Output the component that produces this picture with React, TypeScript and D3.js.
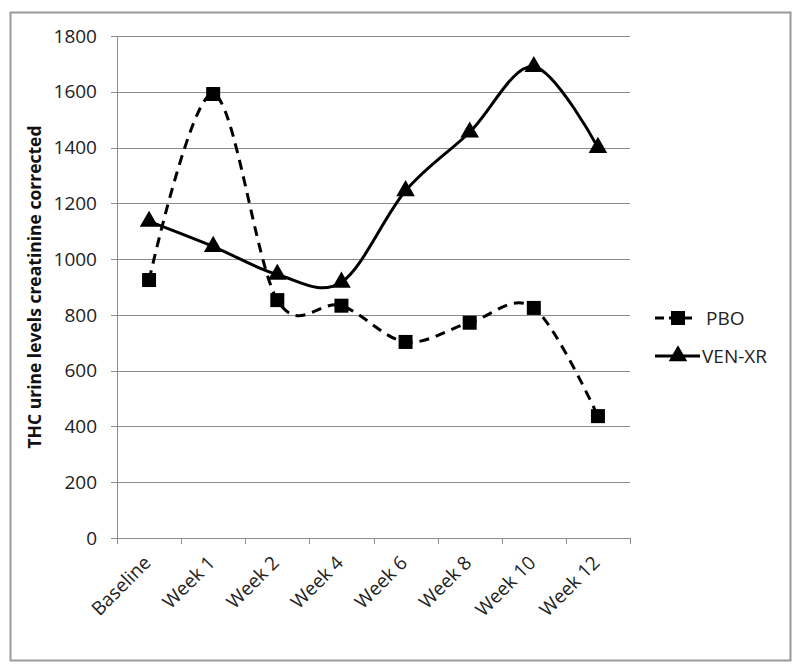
import React, { useRef, useEffect } from "react";
import * as d3 from "d3";

const weeks = ["Baseline", "Week 1", "Week 2", "Week 4", "Week 6", "Week 8", "Week 10", "Week 12"];
const pboValues = [925, 1592, 853, 833, 703, 772, 825, 437];
const venValues = [1135, 1045, 945, 917, 1245, 1455, 1690, 1400];
const yTicks = [0, 200, 400, 600, 800, 1000, 1200, 1400, 1600, 1800];
const seriesNames = ["PBO", "VEN-XR"];

const font = "'Open Sans', 'DejaVu Sans', sans-serif";

function App() {
  const ref = useRef<SVGSVGElement>(null);
  const width = 800;
  const height = 670;

  useEffect(() => {
    const svg = d3.select(ref.current);
    svg.selectAll("*").remove(); // clear before redraw

    const left = 117, right = 630, top = 36, bottom = 538;

    // outer frame
    svg.append("rect")
      .attr("x", 10.5).attr("y", 12.5)
      .attr("width", 780).attr("height", 648)
      .attr("fill", "white").attr("stroke", "#9a9a9a").attr("stroke-width", 2);

    const x = d3.scaleBand().domain(weeks).range([left, right]);
    const y = d3.scaleLinear().domain([0, 1800]).range([bottom, top]);
    const cx = (d: string) => (x(d) as number) + x.bandwidth() / 2;

    // gridlines
    svg.append("g").selectAll("line")
      .data(yTicks.filter(t => t > 0))
      .join("line")
      .attr("x1", left).attr("x2", right)
      .attr("y1", d => Math.round(y(d)) + 0.5).attr("y2", d => Math.round(y(d)) + 0.5)
      .attr("stroke", "#8c8c8c").attr("stroke-width", 1);

    // y axis
    const ya = svg.append("g");
    ya.append("line")
      .attr("x1", left + 0.5).attr("x2", left + 0.5)
      .attr("y1", top).attr("y2", bottom)
      .attr("stroke", "#8c8c8c");
    ya.selectAll("line.tk").data(yTicks).join("line").attr("class", "tk")
      .attr("x1", left - 6).attr("x2", left)
      .attr("y1", d => Math.round(y(d)) + 0.5).attr("y2", d => Math.round(y(d)) + 0.5)
      .attr("stroke", "#8c8c8c");
    ya.selectAll("text").data(yTicks).join("text")
      .attr("x", left - 20).attr("y", d => y(d))
      .attr("dy", "0.35em").attr("text-anchor", "end")
      .style("font-family", font).style("font-size", "19px").attr("fill", "#222")
      .text(d => d);

    // x axis
    const xa = svg.append("g");
    xa.append("line")
      .attr("x1", left).attr("x2", right)
      .attr("y1", bottom + 0.5).attr("y2", bottom + 0.5)
      .attr("stroke", "#8c8c8c");
    const bounds = weeks.map(w => x(w) as number).concat([right]);
    xa.selectAll("line.tk").data(bounds).join("line").attr("class", "tk")
      .attr("x1", d => Math.round(d) + 0.5).attr("x2", d => Math.round(d) + 0.5)
      .attr("y1", bottom).attr("y2", bottom + 6)
      .attr("stroke", "#8c8c8c");
    xa.selectAll("text").data(weeks).join("text")
      .attr("transform", d => `translate(${cx(d) + 3},${bottom + 26}) rotate(-45)`)
      .attr("text-anchor", "end")
      .style("font-family", font).style("font-size", "19px").attr("fill", "#222")
      .text(d => d);

    // y title
    svg.append("text")
      .attr("transform", `translate(41,287) rotate(-90)`)
      .attr("text-anchor", "middle")
      .style("font-family", font).style("font-size", "17.5px").style("font-weight", "bold")
      .attr("fill", "#111")
      .text("THC urine levels creatinine corrected");

    const line = d3.line<number>()
      .x((d, i) => cx(weeks[i]))
      .y(d => y(d))
      .curve(d3.curveCardinal.tension(0));

    // PBO dashed
    svg.append("path")
      .attr("d", line(pboValues))
      .attr("fill", "none").attr("stroke", "black")
      .attr("stroke-width", 3).attr("stroke-dasharray", "10,7");
    // VEN-XR solid
    svg.append("path")
      .attr("d", line(venValues))
      .attr("fill", "none").attr("stroke", "black")
      .attr("stroke-width", 3);

    const sq = 14;
    svg.append("g").selectAll("rect")
      .data(pboValues)
      .join("rect")
      .attr("x", (d, i) => cx(weeks[i]) - sq / 2)
      .attr("y", d => y(d) - sq / 2)
      .attr("width", sq).attr("height", sq)
      .attr("fill", "black");

    const tri = d3.symbol().type(d3.symbolTriangle).size(150);
    svg.append("g").selectAll("path")
      .data(venValues)
      .join("path")
      .attr("d", tri)
      .attr("transform", (d, i) => `translate(${cx(weeks[i])},${y(d)})`)
      .attr("fill", "black");

    // legend
    const lg = svg.append("g");
    const rows = [318, 356];
    seriesNames.forEach((name, i) => {
      const ly = rows[i];
      lg.append("line")
        .attr("x1", 655).attr("x2", i === 0 ? 692 : 700).attr("y1", ly).attr("y2", ly)
        .attr("stroke", "black").attr("stroke-width", 3)
        .attr("stroke-dasharray", i === 0 ? "9,5,30" : null);
      if (i === 0) {
        lg.append("rect").attr("x", 671).attr("y", ly - 7).attr("width", 14).attr("height", 14).attr("fill", "black");
      } else {
        lg.append("path").attr("d", tri).attr("transform", `translate(678,${ly})`).attr("fill", "black");
      }
      lg.append("text")
        .attr("x", i === 0 ? 706 : 702).attr("y", ly)
        .attr("dy", "0.35em")
        .style("font-family", font).style("font-size", "19px").attr("fill", "#222")
        .text(name);
    });
  }, []);

  return (
    <div style={{ position: "absolute", left: 0, top: 0 }}>
      <svg ref={ref} width={width} height={height} style={{ display: "block", background: "white" }}></svg>
    </div>
  );
}

export default App;
